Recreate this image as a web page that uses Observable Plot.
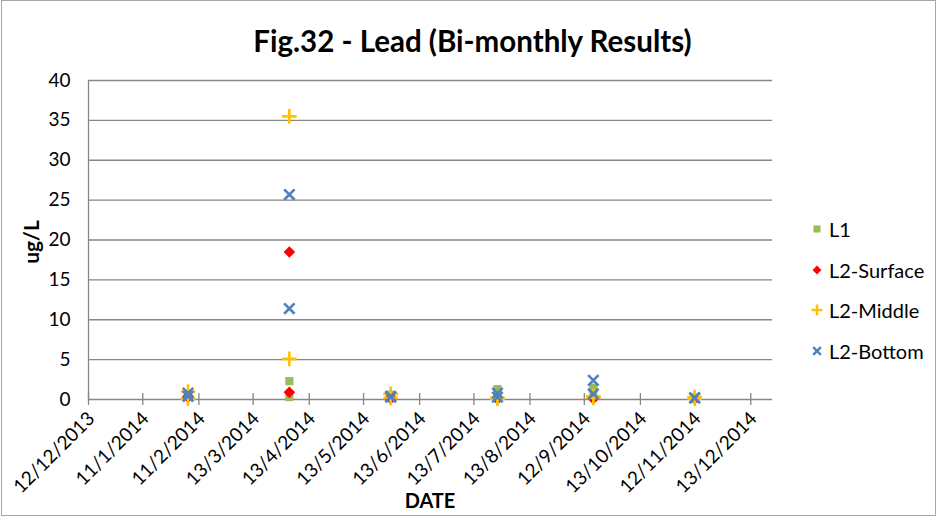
<!DOCTYPE html>
<html>
<head>
<meta charset="utf-8">
<script src="https://cdn.jsdelivr.net/npm/d3@7"></script>
<script src="https://cdn.jsdelivr.net/npm/@observablehq/plot@0.6"></script>
<style>
  body { margin: 0; background: #fff; font-family: Lato, "Open Sans", sans-serif; }
  #chart { position: relative; width: 937px; height: 517px; overflow: hidden; background: #fff; }
  #border { position: absolute; left: 1px; top: 0; right: 1px; bottom: 1px; border: 1px solid #a6a6a6; pointer-events: none; }
  #title { height: 62px; position: relative; }
  #title span { position: absolute; left: 0; width: 945px; text-align: center; top: 23px; font-size: 29.5px; font-weight: bold; color: #000; white-space: nowrap; }
  #legend { position: absolute; left: 810px; top: 209px; font-size: 20px; color: #000; }
  #legend .item { height: 40.5px; display: flex; align-items: center; }
  #legend svg { margin-right: 5px; }
  .axlabel { position: absolute; font-weight: bold; color: #000; white-space: nowrap; }
  #ylab { left: 30px; top: 242px; font-size: 21px; transform: translate(-50%, -50%) rotate(-90deg); }
  #xlab { left: 430px; top: 500px; font-size: 20px; transform: translate(-50%, -50%); }
  svg { overflow: visible; }
</style>
</head>
<body>
<div id="chart">
  <div id="title"><span>Fig.32 - Lead (Bi-monthly Results)</span></div>
  <div id="plot"></div>
  <div id="legend"></div>
  <div class="axlabel" id="ylab"></div>
  <div class="axlabel" id="xlab"></div>
  <div id="border"></div>
</div>
<script>
// ---- data ----
const seriesNames = ["L1", "L2-Surface", "L2-Middle", "L2-Bottom"];
const seriesColors = ["#9BBB59", "#FF0000", "#FFC000", "#4F81BD"];
const seriesSymbols = ["square", "diamond2", "plus", "times"];
const yLabel = "ug/L";
const xLabel = "DATE";
// two samples on each sampling date
const sampleDates = ["2014-02-05","2014-02-05","2014-04-02","2014-04-02","2014-05-28","2014-05-28",
                     "2014-07-26","2014-07-26","2014-09-17","2014-09-17","2014-11-12","2014-11-12"];
const L1        = [0.5, 0.4,  2.3, 0.3,  0.6, 0.3,  1.3, 0.5,  1.5, 0.9,  0.2, 0.1];
const L2Surface = [0.4, 0.3, 18.5, 0.9,  0.3, 0.1,  0.1, 0.05, 0.2, 0.1,  0.2, 0.1];
const L2Middle  = [1.0, 0.1, 35.5, 5.1,  0.7, 0.2,  0.2, 0.1,  0.4, 0.2,  0.3, 0.1];
const L2Bottom  = [0.8, 0.4, 25.7, 11.4, 0.4, 0.3,  0.8, 0.3,  2.4, 0.7,  0.2, 0.2];
const seriesValues = [L1, L2Surface, L2Middle, L2Bottom];

const xDomain = ["2013-12-12", "2014-12-25"];
const xTickDates = ["2013-12-12","2014-01-11","2014-02-11","2014-03-13","2014-04-13","2014-05-13",
                    "2014-06-13","2014-07-13","2014-08-13","2014-09-12","2014-10-13","2014-11-12","2014-12-13"];
const xTickLabels = ["12/12/2013","11/1/2014","11/2/2014","13/3/2014","13/4/2014","13/5/2014",
                     "13/6/2014","13/7/2014","13/8/2014","12/9/2014","13/10/2014","12/11/2014","13/12/2014"];
const yTicks = [0, 5, 10, 15, 20, 25, 30, 35, 40];

// ---- build table ----
const parse = s => new Date(s + "T00:00:00Z");
const rows = [];
seriesNames.forEach((name, si) => {
  seriesValues[si].forEach((v, i) => rows.push({series: name, date: parse(sampleDates[i]), value: v}));
});
const tickDates = xTickDates.map(parse);
const labelByTime = new Map(tickDates.map((d, i) => [+d, xTickLabels[i]]));

const gray = "#868686";
const dotMarks = seriesNames.map((name, si) => {
  const sym = seriesSymbols[si];
  const filled = sym === "square" || sym === "diamond2";
  return Plot.dot(rows.filter(r => r.series === name), {
    x: "date", y: "value", symbol: () => sym,
    r: sym === "diamond2" ? 5.2 : sym === "square" ? 4.6 : 4.8,
    fill: filled ? seriesColors[si] : "none",
    stroke: filled ? "none" : seriesColors[si],
    strokeWidth: filled ? 0 : 2.6
  });
});

const chart = Plot.plot({
  width: 937,
  height: 455,
  marginTop: 18,
  marginBottom: 118,
  marginLeft: 88,
  marginRight: 165,
  style: {fontFamily: "Lato, 'Open Sans', sans-serif", color: "#000", background: "transparent"},
  x: {type: "utc", domain: xDomain.map(parse)},
  y: {domain: [0, 40]},
  symbol: {type: "identity"},
  marks: [
    Plot.ruleY(yTicks, {stroke: gray, strokeWidth: 1.3}),
    Plot.ruleX([parse(xDomain[0])], {stroke: gray, strokeWidth: 1.3}),
    Plot.axisY({ticks: yTicks, tickSize: 0, tickPadding: 18, fontSize: 19, label: null,
                tickFormat: d => String(d)}),
    Plot.axisX({ticks: tickDates, tickSize: 12, dy: -6, stroke: gray, strokeWidth: 1.3,
                tickFormat: () => "", label: null}),
    Plot.axisX({ticks: tickDates, tickSize: 0, tickPadding: 16, dx: 3, tickRotate: -45, fontSize: 19,
                tickFormat: d => labelByTime.get(+d), label: null}),
    ...dotMarks
  ]
});
document.getElementById("plot").appendChild(chart);
document.getElementById("ylab").textContent = yLabel;
document.getElementById("xlab").textContent = xLabel;

// ---- legend ----
const legend = d3.select("#legend");
seriesNames.forEach((name, si) => {
  const item = legend.append("div").attr("class", "item");
  const s = item.append("svg").attr("width", 14).attr("height", 14);
  const sym = {square: d3.symbolSquare, diamond2: d3.symbolDiamond2, plus: d3.symbolPlus, times: d3.symbolTimes}[seriesSymbols[si]];
  const filled = seriesSymbols[si] === "square" || seriesSymbols[si] === "diamond2";
  s.append("path").attr("transform", "translate(7,7)")
    .attr("d", d3.symbol(sym, filled ? 50 : 40)())
    .attr("fill", filled ? seriesColors[si] : "none")
    .attr("stroke", filled ? "none" : seriesColors[si])
    .attr("stroke-width", filled ? 0 : 2.4);
  item.append("span").text(name);
});
</script>
</body>
</html>
